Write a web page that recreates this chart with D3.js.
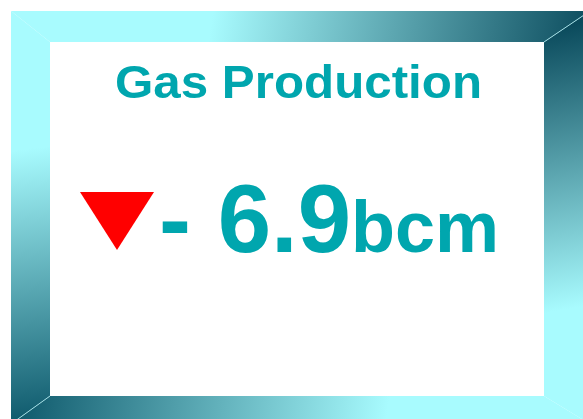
<!DOCTYPE html>
<html>
<head>
<meta charset="utf-8">
<script src="https://cdn.jsdelivr.net/npm/d3@7"></script>
<style>
  html, body { margin: 0; padding: 0; background: #fff; }
  svg { display: block; }
</style>
</head>
<body>
<script>
// KPI card values
const titles = ["Gas Production"];
const directions = ["down"];
const values = [-6.9];
const units = ["bcm"];

const w = 583;
const h = 419;

// frame geometry
const outer = { x0: 11, y0: 11, x1: 590, y1: 424 };
const inner = { x0: 50, y0: 42, x1: 544, y1: 396 };

const light = "#a8fbfe";
const dark = "#0a4a5c";
const teal = "#00a6ae";

const svg = d3.select("body")
  .append("svg")
  .attr("width", w)
  .attr("height", h);

const defs = svg.append("defs");

// one gradient per bevel side
const grads = [
  { id: "gTop", x1: 215, y1: 0, x2: 590, y2: 60, from: light, to: dark },
  { id: "gLeft", x1: 20, y1: 150, x2: 55, y2: 424, from: light, to: "#0b5669" },
  { id: "gRight", x1: 540, y1: 30, x2: 590, y2: 305, from: dark, to: light },
  { id: "gBottom", x1: 11, y1: 380, x2: 385, y2: 430, from: "#0b5568", to: light }
];

grads.forEach(g => {
  const lg = defs.append("linearGradient")
    .attr("id", g.id)
    .attr("gradientUnits", "userSpaceOnUse")
    .attr("x1", g.x1).attr("y1", g.y1)
    .attr("x2", g.x2).attr("y2", g.y2);
  lg.append("stop").attr("offset", "0%").attr("stop-color", g.from);
  lg.append("stop").attr("offset", "100%").attr("stop-color", g.to);
});

const sides = [
  { fill: "gTop", pts: [[outer.x0, outer.y0], [outer.x1, outer.y0], [inner.x1, inner.y0], [inner.x0, inner.y0]] },
  { fill: "gRight", pts: [[outer.x1, outer.y0], [outer.x1, outer.y1], [inner.x1, inner.y1], [inner.x1, inner.y0]] },
  { fill: "gBottom", pts: [[outer.x0, outer.y1], [outer.x1, outer.y1], [inner.x1, inner.y1], [inner.x0, inner.y1]] },
  { fill: "gLeft", pts: [[outer.x0, outer.y0], [inner.x0, inner.y0], [inner.x0, inner.y1], [outer.x0, outer.y1]] }
];

svg.selectAll("polygon.side")
  .data(sides)
  .enter()
  .append("polygon")
  .attr("class", "side")
  .attr("points", d => d.pts.map(p => p.join(",")).join(" "))
  .attr("fill", d => `url(#${d.fill})`);

// thin light mitre lines at the dark corners
svg.append("line")
  .attr("x1", inner.x1).attr("y1", inner.y0)
  .attr("x2", outer.x1).attr("y2", outer.y0)
  .attr("stroke", "#9fdbe2").attr("stroke-width", 1);
svg.append("line")
  .attr("x1", inner.x0).attr("y1", inner.y1)
  .attr("x2", outer.x0).attr("y2", outer.y1)
  .attr("stroke", "#9fdbe2").attr("stroke-width", 1);

// white panel
svg.append("rect")
  .attr("x", inner.x0)
  .attr("y", inner.y0)
  .attr("width", inner.x1 - inner.x0)
  .attr("height", inner.y1 - inner.y0)
  .attr("fill", "#fff");

// title
svg.append("text")
  .attr("x", 115)
  .attr("y", 98)
  .attr("textLength", 367)
  .attr("lengthAdjust", "spacingAndGlyphs")
  .style("font-family", "'Liberation Sans', Arial, sans-serif")
  .style("font-weight", "bold")
  .style("font-size", "47px")
  .attr("fill", teal)
  .text(titles[0]);

// direction marker
const tri = directions[0] === "down"
  ? [[80, 192], [154, 192], [117, 250]]
  : [[80, 250], [154, 250], [117, 192]];
svg.append("polygon")
  .attr("points", tri.map(p => p.join(",")).join(" "))
  .attr("fill", "#ff0000");

// value + unit
const valText = svg.append("text")
  .attr("x", 159)
  .attr("y", 252)
  .style("font-family", "'Liberation Sans', Arial, sans-serif")
  .style("font-weight", "bold")
  .attr("fill", teal);

valText.append("tspan")
  .style("font-size", "96px")
  .text("- " + d3.format(".1f")(Math.abs(values[0])));

valText.append("tspan")
  .style("font-size", "72px")
  .text(units[0]);
</script>
</body>
</html>
